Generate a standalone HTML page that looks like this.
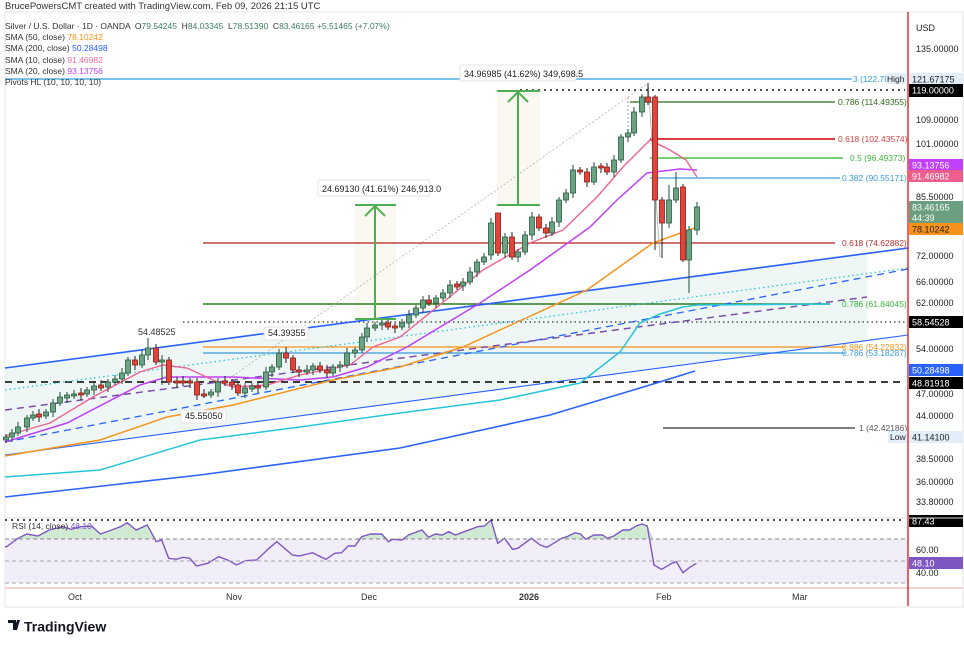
<!DOCTYPE html>
<html><head><meta charset="utf-8"><style>
body{margin:0;background:#fff;width:964px;height:646px;overflow:hidden;font-family:"Liberation Sans",sans-serif}
svg{position:absolute;left:0;top:0}
text{font-family:"Liberation Sans",sans-serif}
</style></head><body>
<svg id="s" width="964" height="646" viewBox="0 0 964 646" xmlns="http://www.w3.org/2000/svg">
<rect x="5" y="12" width="958" height="595" fill="#fff" stroke="#e6e6e6"/>
<text x="5" y="9" font-size="9.5" fill="#333">BrucePowersCMT created with TradingView.com, Feb 09, 2026 21:15 UTC</text>
<!-- channel fill -->
<polygon points="5,368 867,252 867,340 5,455" fill="#eef7f5"/>
<!-- measure shading -->
<rect x="355" y="205" width="41" height="115" fill="#fbf8f2"/>
<rect x="497" y="91" width="43" height="114" fill="#fbf8f2"/>
<g id="lines"></g>
<g id="candles"></g>
<g id="over"></g>
<!-- RSI pane -->
<line x1="5" y1="518" x2="963" y2="518" stroke="#d8d8d8"/>
<rect x="5" y="539" width="903" height="44" fill="#f1edf9"/>
<g id="rsi"></g>
<line x1="5" y1="520" x2="905" y2="520" stroke="#111" stroke-width="1.6" stroke-dasharray="2,4"/>
<line x1="5" y1="539" x2="908" y2="539" stroke="#888" stroke-dasharray="4,3"/>
<line x1="5" y1="561" x2="908" y2="561" stroke="#aaa" stroke-dasharray="4,3"/>
<line x1="5" y1="583" x2="908" y2="583" stroke="#aaa" stroke-dasharray="4,3"/>
<line x1="5" y1="588" x2="963" y2="588" stroke="#f2a0a0"/>
<text x="12" y="529" font-size="8.5" fill="#333">RSI (14, close) <tspan fill="#7e57c2">48.10</tspan></text>
<!-- axis -->
<line x1="908" y1="12" x2="908" y2="606" stroke="#d00" stroke-width="1.2"/>
<g font-size="9" fill="#222" id="axis">
<text x="916" y="31">USD</text>
<text x="916" y="52">135.00000</text>
<text x="916" y="123">109.00000</text>
<text x="916" y="147">101.00000</text>
<text x="916" y="200">85.50000</text>
<text x="916" y="259">72.00000</text>
<text x="916" y="285">66.00000</text>
<text x="916" y="306">62.00000</text>
<text x="916" y="352">54.00000</text>
<text x="916" y="397">47.00000</text>
<text x="916" y="419">44.00000</text>
<text x="916" y="462">38.50000</text>
<text x="916" y="485">36.00000</text>
<text x="916" y="505">33.80000</text>
<text x="916" y="553">60.00</text>
<text x="916" y="576">40.00</text>
</g>
<g font-size="9" fill="#333">
<text x="68" y="600">Oct</text><text x="226" y="600">Nov</text><text x="361" y="600">Dec</text>
<text x="519" y="600" font-weight="bold">2026</text><text x="656" y="600">Feb</text><text x="792" y="600">Mar</text>
</g>
<!-- TradingView logo -->
<g transform="translate(8,620)">
<path d="M0 0h8v10h-3v-7h-5z M9 0h3l-3 10h-3z" fill="#131722"/>
<circle cx="12.5" cy="2" r="0" fill="#131722"/>
<text x="16" y="11.5" font-size="14" font-weight="bold" fill="#131722">TradingView</text>
</g>
</svg>
<div style="position:absolute;left:5px;top:21px;font-size:8.5px;line-height:11.2px;color:#333">
<div>Silver / U.S. Dollar · 1D · OANDA &nbsp;O<span style="color:#3c7d5a">79.54245</span> &nbsp;H<span style="color:#3c7d5a">84.03345</span> &nbsp;L<span style="color:#3c7d5a">78.51390</span> &nbsp;C<span style="color:#3c7d5a">83.46165</span> <span style="color:#3c7d5a">+5.51465 (+7.07%)</span></div>
<div>SMA (50, close) <span style="color:#f7931a">78.10242</span></div>
<div>SMA (200, close) <span style="color:#2962ff">50.28498</span></div>
<div>SMA (10, close) <span style="color:#ec6a9a">91.46982</span></div>
<div>SMA (20, close) <span style="color:#c040fb">93.13756</span></div>
<div>Pivots HL (10, 10, 10, 10)</div>
</div>
<script>
const NS="http://www.w3.org/2000/svg";
function el(p,t,a,txt){const e=document.createElementNS(NS,t);for(const k in a)e.setAttribute(k,a[k]);if(txt!==undefined)e.textContent=txt;document.getElementById(p).appendChild(e);return e;}
function pl(p,pts,st,w,da){el(p,'polyline',{points:pts.map(q=>q.join(',')).join(' '),fill:'none',stroke:st,'stroke-width':w||1.3,'stroke-dasharray':da||'none'});}
function hl(y,x1,x2,c,w,da){el('lines','line',{x1:x1,y1:y,x2:x2,y2:y,stroke:c,'stroke-width':w||1.2,'stroke-dasharray':da||'none'});}
// horizontals
hl(79,5,852,'#2d9fe0');
hl(90,520,905,'#111',1.6,'2,4');
hl(102,630,835,'#2e6b1e');
hl(139,650,835,'#d94040',2);
hl(158,650,843,'#45c445',1.5);
hl(178,650,840,'#3a9ad9');
hl(243,203,835,'#b02020');
hl(304,203,830,'#2e7d1e',1.4);
hl(322,183,905,'#333',1.2,'1.5,3');
hl(347,203,845,'#f7931a');
hl(353,203,845,'#3a9ad9');
hl(382,5,905,'#222',1.8,'7,5');
hl(428,663,855,'#333');
// channel/trend lines
pl('lines',[[5,368],[908,248]],'#2962ff',1.6);
pl('lines',[[5,455],[908,335]],'#2962ff',1.1);
pl('lines',[[5,390],[908,268]],'#26c6da',1.3,'1.5,3');
pl('lines',[[5,442],[908,269]],'#2962ff',1.3,'7,5');
pl('lines',[[5,410],[867,297]],'#7b4fa8',1.5,'7,5');
pl('lines',[[203,397],[648,83]],'#aaa',0.7,'2,2');
pl('lines',[[648,83],[660,257]],'#aaa',0.8);
pl('lines',[[628,97],[628,132]],'#888',0.8,'2,2');
// SMAs
pl('lines',[[5,497],[200,475],[400,448],[550,415],[650,385],[695,371]],'#2962ff',1.6);
pl('lines',[[5,477],[100,470],[200,440],[300,427],[400,413],[500,400],[580,383],[620,352],[640,323],[660,314],[683,307],[697,305],[830,304]],'#26c6da',1.5);
pl('lines',[[5,456],[100,440],[167,417],[233,405],[333,380],[400,367],[463,347],[587,290],[653,243],[697,227]],'#f7931a',1.5);
pl('lines',[[5,442],[67,423],[140,385],[167,377],[233,377],[300,380],[333,377],[367,367],[407,347],[480,303],[530,270],[590,227],[617,200],[647,173],[680,169],[697,170]],'#c040fb',1.5);
pl('lines',[[5,436],[50,423],[93,397],[140,372],[163,365],[187,368],[213,380],[233,387],[267,385],[300,375],[350,365],[373,347],[400,337],[483,270],[530,243],[563,230],[597,197],[623,167],[650,140],[670,150],[686,160],[697,177]],'#f06292',1.4);
// candles
const C=[[6,437],[12,433],[18,427],[27,418],[33,415],[39,416],[46,412],[53,403],[60,397],[67,396],[74,394],[81,394],[87,390],[94,386],[101,387],[108,382],[115,379],[122,373],[128,360],[135,365],[142,355],[148,348],[156,362],[162,360],[169,382],[177,382],[183,382],[190,382],[197,395],[204,395],[211,392],[218,382],[225,382],[232,385],[238,393],[245,388],[252,387],[258,387],[266,372],[272,367],[279,353],[286,358],[293,370],[299,372],[307,370],[313,366],[320,370],[327,373],[333,367],[340,365],[347,353],[355,350],[362,337],[367,328],[375,325],[382,323],[388,327],[395,327],[402,323],[409,315],[416,308],[423,300],[429,303],[436,298],[443,293],[450,285],[457,286],[463,282],[470,272],[477,262],[484,257],[491,223],[498,253],[505,237],[512,257],[518,252],[525,235],[532,217],[539,228],[546,233],[552,222],[559,200],[566,193],[573,170],[580,172],[587,182],[594,167],[601,167],[607,172],[614,160],[621,137],[628,133],[634,112],[642,97],[648,102],[655,200],[662,223],[669,200],[676,188],[683,260],[689,230],[697,207]];
const hi={148:338,286:347,498:213,648:83,655:95,669:185,676:172},lo={162:385,197:400,204:398,662:258,683:262,689:293,655:250};
let prev=C[0][1]+3;
C.forEach(([x,c],i)=>{let o=prev;if(x==655)o=97;if(x==683)o=187;if(x==498)o=213;if(x==491)o=255;
 let top=Math.min(o,c),bot=Math.max(o,c);if(bot-top<2){top-=1;bot+=1;}
 const up=c<o;const h=hi[x]||top-3-(i%3),l=lo[x]||bot+3+(i%2)*2;
 el('candles','line',{x1:x,y1:h,x2:x,y2:l,stroke:up?'#1e4d33':'#222','stroke-width':1});
 el('candles','rect',{x:x-2.5,y:top,width:5,height:bot-top,fill:up?'#6aa382':'#e0443a',stroke:up?'#2a5a3f':'#8a1c14','stroke-width':0.8});
 prev=c;});
// measure arrows
function arrow(x,y1,y2,xa,xb){el('over','line',{x1:xa,y1:y1,x2:xb,y2:y1,stroke:'#4caf50','stroke-width':2});
 el('over','line',{x1:xa,y1:y2,x2:xb,y2:y2,stroke:'#4caf50','stroke-width':2});
 el('over','line',{x1:x,y1:y1,x2:x,y2:y2,stroke:'#4caf50','stroke-width':2});
 el('over','polyline',{points:`${x-10},${y1+11} ${x},${y1+1} ${x+10},${y1+11}`,fill:'none',stroke:'#4caf50','stroke-width':2});}
arrow(375,205,319,355,396);arrow(518,91,205,497,540);
function box(x,y,w,h,t,fs){el('over','rect',{x:x,y:y,width:w,height:h,fill:'#fff',stroke:'#e3e3e3',rx:2});el('over','text',{x:x+4,y:y+h-4,'font-size':fs||9,fill:'#222'},t);}
box(318,180,112,16,'24.69130 (41.61%) 246,913.0');
box(460,65,116,16,'34.96985 (41.62%) 349,698.5');
el('over','text',{x:138,y:335,'font-size':9,fill:'#333'},'54.48525');
box(264,327,44,13,'54.39355');
box(181,410,45,13,'45.55050');
// fib labels
function lab(x,y,t,c){el('over','text',{x:x,y:y+3,'font-size':8.5,fill:c},t);}
lab(853,79,'3 (122.78','#2d9fe0');
lab(838,102,'0.786 (114.49355)','#2e6b1e');
lab(838,139,'0.618 (102.43574)','#d94040');
lab(850,158,'0.5 (96.49373)','#3bb53b');
lab(842,178,'0.382 (90.55171)','#3a9ad9');
lab(842,243,'0.618 (74.62882)','#c03030');
lab(842,304,'0.786 (61.84045)','#3bb53b');
lab(842,347,'0.886 (54.22832)','#f7931a');
lab(842,353,'0.786 (53.18287)','#3a9ad9');
lab(859,428,'1 (42.42186)','#555');
el('over','rect',{x:886,y:73,width:20,height:11,fill:'#e3eefb'});el('over','text',{x:887,y:82,'font-size':8.5,fill:'#222'},'High');
el('over','rect',{x:888,y:431,width:19,height:12,fill:'#e3eefb'});el('over','text',{x:890,y:440,'font-size':8.5,fill:'#222'},'Low');
// axis boxes
function ab(y,h,bg,fg,t,t2){el('over','rect',{x:909,y:y,width:54,height:h,fill:bg});el('over','text',{x:912,y:y+9.5,'font-size':9,fill:fg},t);if(t2)el('over','text',{x:912,y:y+20,'font-size':9,fill:fg},t2);}
ab(73,13,'#e3eefb','#222','121.67175');
ab(84,13,'#000','#fff','119.00000');
ab(159,12,'#c040fb','#fff','93.13756');
ab(170,12,'#ec5f8d','#fff','91.46982');
ab(201,23,'#6a9f7f','#fff','83.46165','44:39');
ab(223,12,'#f7931a','#222','78.10242');
ab(316,12,'#000','#fff','58.54528');
ab(364,12,'#2962ff','#fff','50.28498');
ab(377,12,'#000','#fff','48.81918');
ab(431,12,'#e3eefb','#222','41.14100');
ab(515,12,'#000','#fff','87.43');
ab(557,12,'#7e57c2','#fff','48.10');
// RSI
const R=[[15,110],[40,85],[60,72],[85,78],[110,60],[140,50],[160,58],[180,50],[205,48],[225,72],[250,60],[270,50],[285,38],[305,60],[330,45],[350,95],[362,90],[378,145],[395,148],[410,142],[425,145],[440,168],[465,160],[490,140],[510,150],[530,165],[550,152],[575,150],[600,118],[620,95],[655,135],[670,138],[700,128],[730,148],[750,130],[765,128],[780,108],[795,108],[810,80],[830,72],[855,72],[870,95],[880,88],[900,90],[915,75],[945,60],[960,82],[975,72],[990,75],[1005,65],[1020,75],[1040,65],[1070,50],[1085,48],[1100,30],[1115,100],[1130,85],[1148,118],[1160,115],[1190,85],[1210,105],[1225,112],[1240,100],[1258,85],[1270,80],[1288,68],[1300,72],[1312,88],[1330,75],[1350,75],[1360,85],[1375,78],[1395,60],[1410,60],[1425,48],[1438,42],[1450,48],[1465,165],[1482,178],[1505,160],[1515,155],[1530,188],[1545,172],[1560,160]].map(([a,b])=>[+(a/2.24).toFixed(1),+(510+b/3).toFixed(1)]);
R.unshift([5,R[0][1]]);
el('rsi','polygon',{points:R.map(q=>q[0]+','+Math.min(q[1],539)).join(' ')+` ${R[R.length-1][0]},539 5,539`,fill:'#cfe9d3'});
pl('rsi',R,'#7e57c2',1.4);
</script>
</body></html>
